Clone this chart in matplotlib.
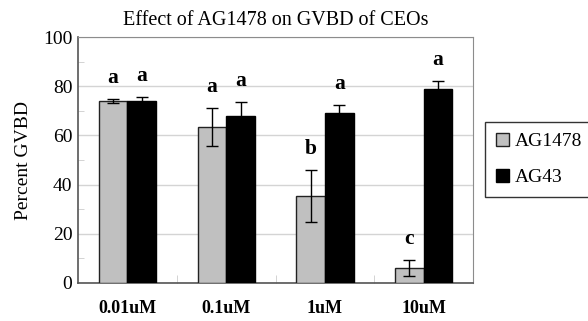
import matplotlib
matplotlib.use('Agg')
import matplotlib.pyplot as plt
import numpy as np

plt.rcParams['font.family'] = 'Liberation Serif'

doses = ['0.01uM', '0.1uM', '1uM', '10uM']
ag1478 = [74.0, 63.5, 35.5, 6.0]
ag1478_err = [1.0, 7.6, 10.5, 3.3]
ag43 = [74.0, 68.0, 69.2, 78.7]
ag43_err = [1.7, 5.7, 3.0, 3.4]
ag1478_sig = ['a', 'a', 'b', 'c']
ag43_sig = ['a', 'a', 'a', 'a']

fig = plt.figure(figsize=(5.88, 3.21), dpi=100)
ax = fig.add_axes([0.1327, 0.1184, 0.672, 0.766])

x = np.arange(len(doses))
w = 0.29
gray = '#c0c0c0'
ax.bar(x - w/2, ag1478, w, color=gray, edgecolor='#222222', linewidth=1.0,
       label='AG1478', zorder=3)
ax.bar(x + w/2, ag43, w, color='black', edgecolor='black', linewidth=1.0,
       label='AG43', zorder=3)
ax.errorbar(x - w/2, ag1478, yerr=ag1478_err, fmt='none', ecolor='black',
            elinewidth=1.0, capsize=4, capthick=1.0, zorder=4)
ax.errorbar(x + w/2, ag43, yerr=ag43_err, fmt='none', ecolor='black',
            elinewidth=1.0, capsize=4, capthick=1.0, zorder=4)

# significance letters above each error bar
for xi, v, e, s in zip(x - w/2, ag1478, ag1478_err, ag1478_sig):
    ax.text(xi, v + e + 4.5, s, ha='center', va='bottom', fontsize=15.5,
            fontweight='bold')
for xi, v, e, s in zip(x + w/2, ag43, ag43_err, ag43_sig):
    ax.text(xi, v + e + 4.5, s, ha='center', va='bottom', fontsize=15.5,
            fontweight='bold')

ax.set_xlim(-0.5, 3.5)
ax.set_ylim(0, 100)
ax.set_yticks(np.arange(0, 101, 20))
ax.set_yticks(np.arange(10, 100, 20), minor=True)
ax.tick_params(axis='y', which='major', length=0, labelsize=14, pad=4)
ax.tick_params(axis='y', which='minor', direction='in', length=4,
               color='#cccccc')
ax.grid(axis='y', which='major', color='#d4d4d4', linewidth=1.0, zorder=0)

ax.set_xticks(x)
ax.set_xticklabels(doses, fontsize=13, fontweight='bold')
ax.set_xticks(np.arange(0.5, 3.5, 1), minor=True)
ax.tick_params(axis='x', which='major', length=0, pad=12)
ax.tick_params(axis='x', which='minor', direction='in', length=6,
               color='#cccccc')

for side in ['top', 'right']:
    ax.spines[side].set_color('#8c8c8c')
for side in ['left', 'bottom']:
    ax.spines[side].set_color('#555555')
    ax.spines[side].set_linewidth(1.2)

ax.set_ylabel('Percent GVBD', fontsize=14, labelpad=8)
ax.set_title('Effect of AG1478 on GVBD of CEOs', fontsize=14.5, pad=9)

leg = fig.legend(loc='upper left', bbox_to_anchor=(485/588, 1 - 122/321),
                 fontsize=14, frameon=True, fancybox=False, edgecolor='black',
                 handlelength=0.7, handleheight=0.7, handletextpad=0.3,
                 labelspacing=0.95, borderpad=0.55, borderaxespad=0)
leg.get_frame().set_linewidth(1.0)

fig.savefig('out.png', dpi=100)
